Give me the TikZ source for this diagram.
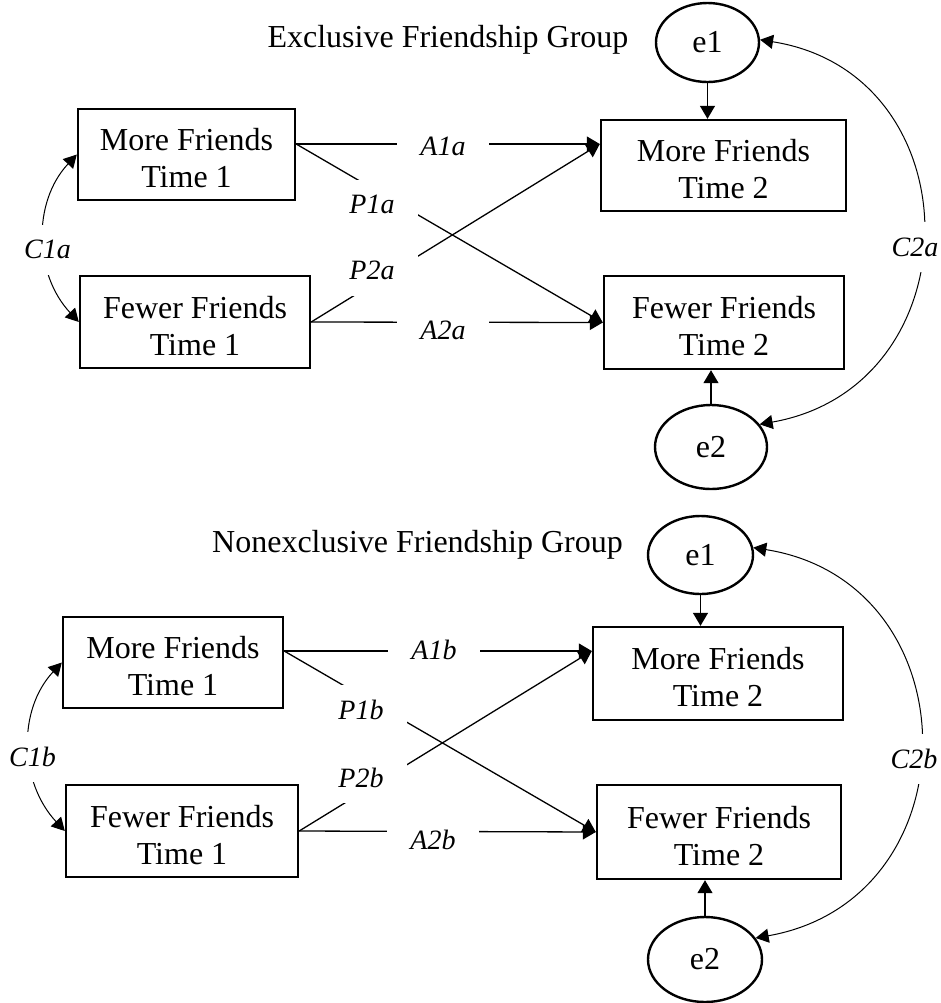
\documentclass[tikz,border=0pt]{standalone}
\usepackage{fontspec}
\setmainfont{Liberation Serif}
\usetikzlibrary{arrows.meta,shapes.geometric}

\tikzset{
  var/.style={draw, line width=1.2pt, minimum height=45.5pt, inner sep=0pt,
    align=center, text height=33pt, text depth=0pt, font=\fontsize{16}{18.5}\selectfont},
  err/.style={draw, ellipse, line width=1.2pt, inner sep=0pt,
    font=\fontsize{16}{18.5}\selectfont},
  heading/.style={anchor=base, inner sep=0pt, font=\fontsize{16}{18.5}\selectfont},
  reg/.style={line width=0.65pt, -{Triangle[length=6.5pt,width=7.5pt]}},
  cov/.style={line width=0.5pt,
    {Triangle[length=6.5pt,width=7pt]}-{Triangle[length=6.5pt,width=7pt]}},
  coef/.style={fill=white, inner sep=0pt, minimum width=46pt, minimum height=25pt,
    font=\fontsize{14}{16}\selectfont\itshape},
}

\begin{document}
\begin{tikzpicture}[x=0.5pt,y=0.5pt]
\useasboundingbox (0,0) rectangle (941,-1003);

% ---------------- Exclusive friendship group ----------------
\node[heading] (ta) at (448,-47) {Exclusive Friendship Group};
\node[var, minimum width=108.5pt] (mf1a) at (186.5,-154.5) {More Friends\\Time 1};
\node[var, minimum width=115pt, minimum height=46pt] (ff1a) at (195,-322) {Fewer Friends\\Time 1};
\node[var, minimum width=122.5pt] (mf2a) at (723.5,-165.5) {More Friends\\Time 2};
\node[var, minimum width=120pt, minimum height=46.5pt] (ff2a) at (724,-322.5) {Fewer Friends\\Time 2};
\node[err, minimum width=51.5pt, minimum height=39.5pt] (e1a) at (707.5,-42.5) {e1};
\node[err, minimum width=56pt, minimum height=42pt] (e2a) at (711,-447) {e2};

% stability, cross-lagged and residual paths
\draw[reg] ([yshift=5.25pt]mf1a.east) -- ([yshift=10.75pt]mf2a.west);
\draw[reg] ([yshift=5.25pt]mf1a.east) -- (ff2a.west);
\draw[reg] (ff1a.east) -- ([yshift=10.75pt]mf2a.west);
\draw[reg] (ff1a.east) -- (ff2a.west);
\draw[reg] (e1a.south) -- (e1a.south |- mf2a.north);
\draw[reg] (e2a.north) -- (e2a.north |- ff2a.south);

% covariances
\draw[cov] (mf1a.west) to[out=227, in=133] (ff1a.west);
\draw[cov] (e1a.3) to[out=-9, in=10, looseness=1.46] (e2a.25);

% coefficient labels
\node[coef] (la1a) at (443,-146) {A1a};
\node[coef] (lp1a) at (372,-204.5) {P1a};
\node[coef] (lp2a) at (372,-270.5) {P2a};
\node[coef] (la2a) at (443,-330.5) {A2a};
\node[coef] (lc1a) at (47.5,-249.5) {C1a};
\node[coef] (lc2a) at (915,-247) {C2a};

% ---------------- Nonexclusive friendship group ----------------
\node[heading] (tb) at (417.5,-552) {Nonexclusive Friendship Group};
\node[var, minimum width=110pt] (mf1b) at (173,-662.5) {More Friends\\Time 1};
\node[var, minimum width=116pt, minimum height=46pt] (ff1b) at (182,-831) {Fewer Friends\\Time 1};
\node[var, minimum width=125pt, minimum height=46.5pt] (mf2b) at (718,-673.5) {More Friends\\Time 2};
\node[var, minimum width=122pt, minimum height=47pt] (ff2b) at (719,-832) {Fewer Friends\\Time 2};
\node[err, minimum width=52.5pt, minimum height=39pt] (e1b) at (700.5,-555) {e1};
\node[err, minimum width=57pt, minimum height=42.5pt] (e2b) at (705,-959.5) {e2};

% stability, cross-lagged and residual paths
\draw[reg] ([yshift=5.75pt]mf1b.east) -- ([yshift=11.25pt]mf2b.west);
\draw[reg] ([yshift=5.75pt]mf1b.east) -- (ff2b.west);
\draw[reg] (ff1b.east) -- ([yshift=11.25pt]mf2b.west);
\draw[reg] (ff1b.east) -- (ff2b.west);
\draw[reg] (e1b.south) -- (e1b.south |- mf2b.north);
\draw[reg] (e2b.north) -- (e2b.north |- ff2b.south);

% covariances
\draw[cov] (mf1b.west) to[out=227, in=133] (ff1b.west);
\draw[cov] (e1b.8) to[out=-9, in=10, looseness=1.46] (e2b.23);

% coefficient labels
\node[coef] (la1b) at (434,-650) {A1b};
\node[coef] (lp1b) at (361,-710) {P1b};
\node[coef] (lp2b) at (361,-778) {P2b};
\node[coef] (la2b) at (433,-840) {A2b};
\node[coef] (lc1b) at (32.5,-756.5) {C1b};
\node[coef] (lc2b) at (914,-759) {C2b};
\end{tikzpicture}
\end{document}
